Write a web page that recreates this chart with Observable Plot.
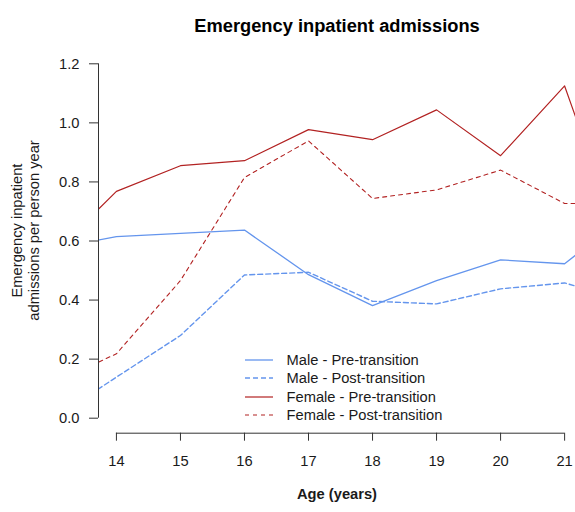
<!DOCTYPE html>
<html>
<head>
<meta charset="utf-8">
<script src="https://cdn.jsdelivr.net/npm/d3@7"></script>
<script src="https://cdn.jsdelivr.net/npm/@observablehq/plot@0.6"></script>
<style>
  html, body { margin: 0; padding: 0; background: #fff; }
  body { width: 575px; height: 512px; position: relative; overflow: hidden; font-family: "Liberation Sans", Arial, sans-serif; }
  #chart svg { display: block; }
  .legend { position: absolute; left: 245px; top: 351px; font-size: 14.7px; color: #1a1a1a; }
  .legend .row { display: flex; align-items: center; height: 18.3px; }
  .legend svg { width: 28px; height: 18px; flex: none; }
  .legend span { margin-left: 13.5px; white-space: nowrap; }
</style>
</head>
<body>
<div id="chart"></div>
<div class="legend" id="legend"></div>
<script>
// Age in years; the first and last ages lie just outside the plotted window
const ages = [13.5, 14, 15, 16, 17, 18, 19, 20, 21, 21.5];
// Emergency inpatient admissions per person year
const malePre    = [0.594, 0.615, 0.626, 0.637, 0.486, 0.381, 0.466, 0.536, 0.523, 0.607];
const malePost   = [0.068, 0.139, 0.280, 0.485, 0.494, 0.396, 0.387, 0.438, 0.458, 0.427];
const femalePre  = [0.661, 0.768, 0.855, 0.872, 0.977, 0.943, 1.044, 0.889, 1.125, 0.820];
const femalePost = [0.168, 0.218, 0.466, 0.815, 0.939, 0.744, 0.773, 0.840, 0.727, 0.727];

const seriesNames = ["Male - Pre-transition", "Male - Post-transition", "Female - Pre-transition", "Female - Post-transition"];
const ageTicks = [14, 15, 16, 17, 18, 19, 20, 21];
const rateTicks = [0, 0.2, 0.4, 0.6, 0.8, 1.0, 1.2];

const blue = "#6495ed";
const red = "#b22222";
const styles = [
  {stroke: blue, strokeWidth: 1.3, dash: null},
  {stroke: blue, strokeWidth: 1.4, dash: "5,3"},
  {stroke: red,  strokeWidth: 1.2, dash: null},
  {stroke: red,  strokeWidth: 1.1, dash: "4,4"}
];

const seriesValues = [malePre, malePost, femalePre, femalePost];
const seriesRows = seriesValues.map(vals => ages.map((a, i) => ({age: a, value: vals[i]})));

// Layout: plot window and an x axis set a little below zero
const W = 575, H = 512;
const frameTop = 63.3, zeroPx = 417.7, axisPx = 432.7, frameLeft = 98;
const pxPerUnit = (zeroPx - frameTop) / 1.2;
const yMin = -(axisPx - zeroPx) / pxPerUnit;
const xDomain = [13.72, 21.17];
const font = "Liberation Sans, Arial, sans-serif";
const ink = "#1a1a1a";

const lineMarks = seriesRows.map((rows, k) => Plot.line(rows, {
  x: "age", y: "value",
  stroke: styles[k].stroke,
  strokeWidth: styles[k].strokeWidth,
  strokeDasharray: styles[k].dash || undefined,
  clip: true
}));

const chart = Plot.plot({
  width: W, height: H,
  marginLeft: frameLeft, marginRight: 0, marginTop: frameTop, marginBottom: H - axisPx,
  style: {fontFamily: font, fontSize: "14.7px", color: ink, background: "#fff"},
  x: {domain: xDomain},
  y: {domain: [yMin, 1.2]},
  marks: [
    ...lineMarks,
    // y axis
    Plot.ruleX([xDomain[0]], {y1: 0, y2: 1.2, stroke: "#333", strokeWidth: 1}),
    Plot.axisY({ticks: rateTicks, tickFormat: d3.format(".1f"), tickSize: 9, tickPadding: 10, label: null, stroke: "#333", fill: ink, fontSize: 14.7}),
    // x axis
    Plot.ruleY([yMin], {x1: ageTicks[0], x2: ageTicks[ageTicks.length - 1], stroke: "#333", strokeWidth: 1}),
    Plot.axisX({ticks: ageTicks, tickFormat: d => String(d), tickSize: 8, tickPadding: 14, label: null, stroke: "#333", fill: ink, fontSize: 14.7}),
    // title and axis labels
    Plot.text(["Emergency inpatient admissions"], {frameAnchor: "top", dy: -45, fontWeight: "bold", fontSize: 18.3, fill: "#000"}),
    Plot.text(["Age (years)"], {frameAnchor: "bottom", dy: 66, fontWeight: "bold", fontSize: 14.7, fill: ink}),
    Plot.text(["Emergency inpatient\nadmissions per person year"], {frameAnchor: "left", textAnchor: "middle", rotate: -90, dx: -73, dy: -18, lineHeight: 1.14, fontSize: 14.7, fill: ink})
  ]
});
document.getElementById("chart").appendChild(chart);

// Legend
const legend = d3.select("#legend");
seriesNames.forEach((name, k) => {
  const row = legend.append("div").attr("class", "row");
  const s = row.append("svg").attr("viewBox", "0 0 28 18");
  s.append("line").attr("x1", 0).attr("x2", 28).attr("y1", 9).attr("y2", 9)
    .attr("stroke", styles[k].stroke).attr("stroke-width", styles[k].strokeWidth)
    .attr("stroke-dasharray", styles[k].dash);
  row.append("span").text(name);
});
</script>
</body>
</html>
